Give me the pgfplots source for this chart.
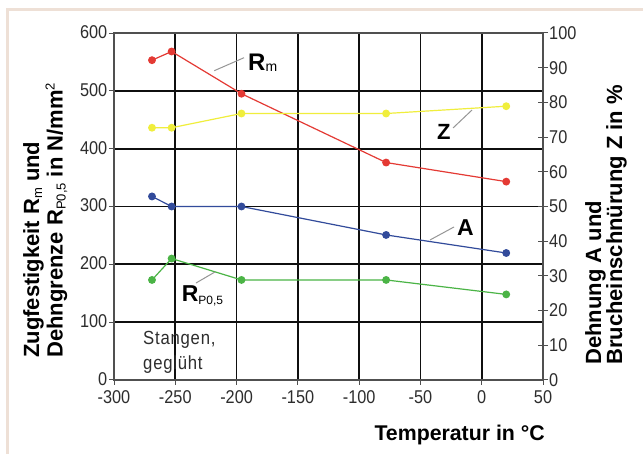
\documentclass[border=0pt]{standalone}
\usepackage{fontspec}
\setmainfont{Liberation Sans}
\newfontfamily\narrowfont[FakeStretch=0.88]{Liberation Sans}
\newfontfamily\spacedfont[FakeStretch=0.88,LetterSpace=4]{Liberation Sans}
\usepackage{pgfplots}
\pgfplotsset{compat=1.18}
\definecolor{rmc}{RGB}{228,58,52}
\definecolor{zc}{RGB}{240,238,60}
\definecolor{ac}{RGB}{50,75,155}
\definecolor{rpc}{RGB}{75,180,70}
\definecolor{framec}{RGB}{238,224,214}
\definecolor{gridc}{RGB}{15,15,15}
\definecolor{axisc}{RGB}{80,80,80}
\definecolor{tickc}{RGB}{45,45,45}
\definecolor{leaderc}{RGB}{150,150,150}
\newcommand\lsub[1]{\raisebox{-3bp}{\mdseries\fontsize{13bp}{13bp}\selectfont #1}}
\newcommand\lsup[1]{\raisebox{8bp}{\mdseries\fontsize{13bp}{13bp}\selectfont #1}}
\newcommand\asub[2]{\raisebox{-#2}{\mdseries\fontsize{14bp}{14bp}\selectfont #1}}
\newcommand\nolsl{\lineskiplimit=-20bp\relax}
\begin{document}
\begin{tikzpicture}
\fill[white] (0,0) rectangle (643bp,454bp);
\path[use as bounding box] (0,0) rectangle (643bp,454bp);
\draw[framec, line width=3bp] (7.5bp,-2bp) -- (7.5bp,444bp) -- (645bp,444bp);
\begin{axis}[
  at={(114bp,74bp)}, anchor=south west, scale only axis,
  width=429bp, height=347bp,
  xmin=-300, xmax=50, ymin=0, ymax=600,
  xtick={-300,-250,...,50}, ytick={0,100,...,600},
  grid=major, major grid style={line width=1.8bp, color=gridc},
  axis line style={line width=1.3bp, color=axisc},
  tick pos=left, tick align=outside, major tick length=5bp,
  tick style={line width=1bp, color=axisc},
  tick label style={font=\narrowfont\fontsize{18.5bp}{18.5bp}\selectfont, color=tickc, inner sep=1bp},
  /pgf/number format/assume math mode=true,
  yticklabel style={xshift=-0.5bp, yshift=1bp},
  xticklabel style={yshift=-4.5bp},
  clip=false,
]
\addplot[rmc, line width=1.2bp, mark=*, mark size=3.3bp] coordinates {(-269,553) (-253,568) (-196,495) (-78,376) (20,343)};
\addplot[rpc, line width=1.2bp, mark=*, mark size=3.3bp] coordinates {(-269,173) (-253,210) (-196,173) (-78,173) (20,148)};
\draw[leaderc, line width=1bp] (axis cs:-218.2,534.8) -- (axis cs:-193.9,557.3);
\draw[leaderc, line width=1bp] (axis cs:-23.4,435.8) -- (axis cs:-7.9,466.9);
\draw[leaderc, line width=1bp] (axis cs:-42.2,242.1) -- (axis cs:-22.6,264.6);
\draw[leaderc, line width=1bp] (axis cs:-233.1,167.7) -- (axis cs:-217.6,186.8);
\node[anchor=base west, inner sep=0, font=\bfseries\fontsize{24bp}{24bp}\selectfont] at (axis cs:-190.7,536) {R\asub{m}{1.5bp}};
\node[anchor=base west, inner sep=0, font=\bfseries\fontsize{22bp}{22bp}\selectfont] at (axis cs:-36.5,416.7) {Z};
\node[anchor=base west, inner sep=0, font=\bfseries\fontsize{23bp}{23bp}\selectfont] at (axis cs:-20.2,249) {A};
\node[anchor=base west, inner sep=0, font=\bfseries\fontsize{23bp}{23bp}\selectfont] at (axis cs:-244.8,135.4) {R\raisebox{-3.3bp}{\mdseries\fontsize{12bp}{12bp}\selectfont P0,5}};
\node[anchor=base west, inner sep=0, font=\spacedfont\fontsize{19bp}{19bp}\selectfont, color=tickc] at (axis cs:-276.3,62) {Stangen,};
\node[anchor=base west, inner sep=0, font=\spacedfont\fontsize{19bp}{19bp}\selectfont, color=tickc] at (axis cs:-276.3,19) {geglüht};
\end{axis}
\begin{axis}[
  at={(114bp,74bp)}, anchor=south west, scale only axis,
  width=429bp, height=347bp,
  xmin=-300, xmax=50, ymin=0, ymax=100,
  axis x line=none, axis y line*=right,
  ytick={0,10,...,100},
  axis line style={line width=1.3bp, color=axisc},
  tick align=center, major tick length=10bp,
  tick style={line width=1bp, color=axisc},
  tick label style={font=\narrowfont\fontsize{18.5bp}{18.5bp}\selectfont, color=tickc, inner sep=1bp},
  /pgf/number format/assume math mode=true,
  clip=false,
]
\addplot[zc, line width=1.2bp, mark=*, mark size=3.3bp] coordinates {(-269,72.7) (-253,72.7) (-196,76.8) (-78,76.8) (20,78.9)};
\addplot[ac, line width=1.2bp, mark=*, mark size=3.3bp] coordinates {(-269,52.9) (-253,50) (-196,50) (-78,41.8) (20,36.6)};
\end{axis}
\node[rotate=90, anchor=north west, inner sep=0, align=left, font={\bfseries\fontsize{22bp}{23.4bp}\selectfont\nolsl}] at (23bp,96bp) {Zugfestigkeit R\lsub{m} und\\Dehngrenze R\lsub{P0,5} in N/mm\lsup{2}};
\node[rotate=90, anchor=north west, inner sep=0, align=left, font={\bfseries\fontsize{22bp}{21bp}\selectfont\nolsl}] at (585bp,89bp) {Dehnung A und\\Brucheinschnürung Z in \%};
\node[anchor=base east, inner sep=0, font=\bfseries\fontsize{21.3bp}{21bp}\selectfont] at (545bp,14bp) {Temperatur in °C};
\end{tikzpicture}
\end{document}
